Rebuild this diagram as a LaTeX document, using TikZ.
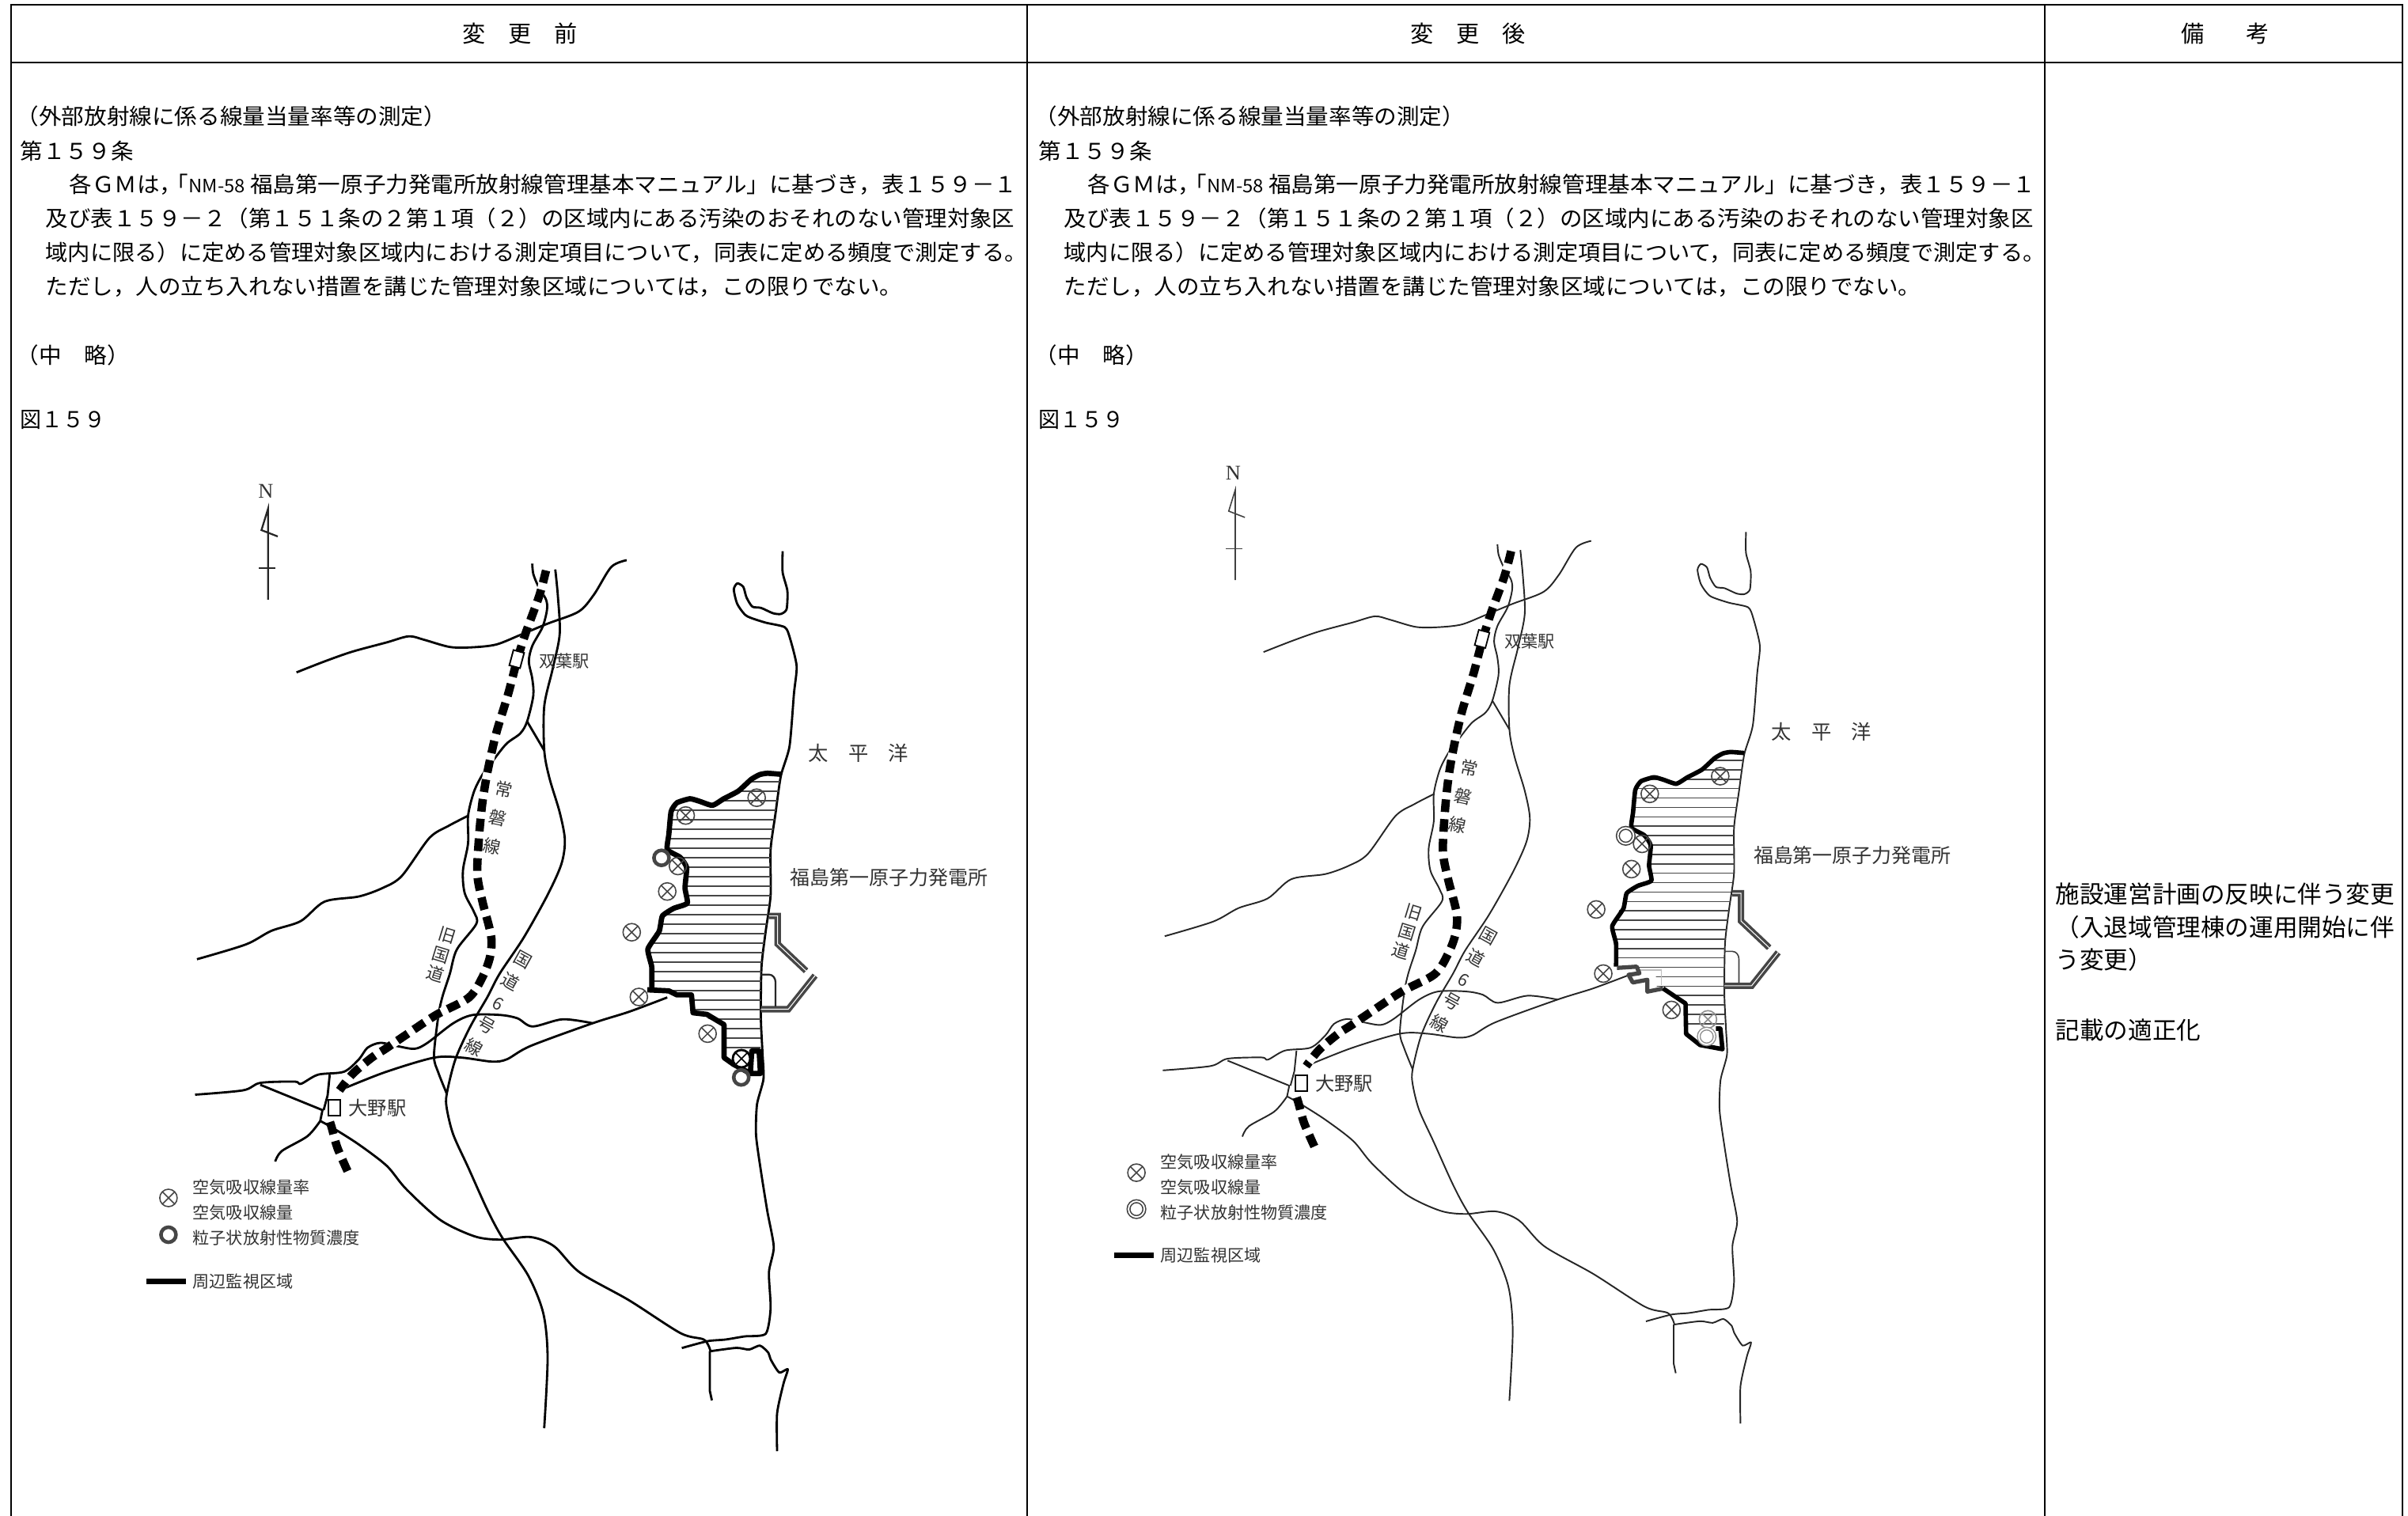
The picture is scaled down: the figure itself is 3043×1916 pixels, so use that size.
\documentclass[tikz,border=0pt]{standalone}
\usepackage{fontspec}
\usepackage{graphicx}
\setmainfont{Noto Sans CJK JP}
\newfontfamily\northfont{Liberation Serif}
\tikzset{>=latex}
\usetikzlibrary{calc}
\definecolor{mapgrey}{RGB}{70,70,70}
\tikzstyle{frameline}=[draw=black,line width=0.75pt]
\tikzstyle{headtext}=[font=\fontsize{8.3}{10}\selectfont,inner sep=0pt]
\tikzstyle{bodyline}=[font=\fontsize{7.9}{10}\selectfont,anchor=west,inner sep=0pt]
\tikzstyle{notetext}=[font=\fontsize{8.7}{10}\selectfont,anchor=west,inner sep=0pt]
\tikzstyle{maplabel}=[text=black!80,inner sep=0pt,font=\fontsize{6}{7}\selectfont]
\tikzstyle{legendlabel}=[maplabel,anchor=west,font=\fontsize{6}{7}\selectfont]
\tikzstyle{hatchline}=[draw=mapgrey,line width=0.42pt]
\tikzstyle{harbourline}=[draw=mapgrey,line width=1pt,double=white,double distance=0.3pt]
\tikzset{markin/.style={circle,draw=#1,line width=0.45pt,minimum size=0.22cm,inner sep=0pt,
  path picture={\draw[#1,line width=0.45pt] (path picture bounding box.north west) -- (path picture bounding box.south east)
    (path picture bounding box.north east) -- (path picture bounding box.south west);}},
  xmark/.style={markin=mapgrey}}
\newcommand{\fitline}[2]{\resizebox{#1cm}{\height}{#2}}

\newcommand{\bodytext}{%
  \node[bodyline] (clausehead) at (20,147) {\fitline{5.43}{（外部放射線に係る線量当量率等の測定）}};
  \node[bodyline] (clauseno) at (25,191) {\fitline{1.43}{第１５９条}};
  \node[bodyline] (lineA) at (87,233) {\fitline{11.97}{各ＧＭは，\hspace{-0.2cm}「{\fontsize{6.6}{8}\selectfont NM-58} 福島第一原子力発電所放射線管理基本マニュアル」に基づき，表１５９－１}};
  \node[bodyline] (lineB) at (57,276) {\fitline{12.24}{及び表１５９－２（第１５１条の２第１項（２）の区域内にある汚染のおそれのない管理対象区}};
  \node[bodyline] (lineC) at (57,319) {\fitline{12.39}{域内に限る）に定める管理対象区域内における測定項目について，同表に定める頻度で測定する。}};
  \node[bodyline] (lineD) at (57,362) {\fitline{10.82}{ただし，人の立ち入れない措置を講じた管理対象区域については，この限りでない。}};
  \node[bodyline] (omitted) at (20,449) {\fitline{1.43}{（中　略）}};
  \node[bodyline] (figno) at (25,531) {\fitline{1.08}{図１５９}};
}

% everything both maps share, in the frame of the left one
\newcommand{\mapbase}{%
  \node[maplabel,font=\northfont\fontsize{7.5}{8}\selectfont] (north) at (336,621) {N};
  \draw[thinline] (338.7,758) -- (338.7,643) -- (330.4,670) -- (351,678);
  \draw[thinline] (327,718) -- (348,718);
  % roads
  \draw[roadline] plot[smooth,tension=.5] coordinates {(374.7,849.8) (410.2,835.9) (444.9,823.7) (488.3,812) (516.5,804.2) (536,808.6) (568.5,817.7) (596.7,818.1) (627,814.6) (657.4,802.5) (692,788.2) (731.2,773) (750.7,751.3) (772.4,716.6) (791.9,708)};
  \draw[roadline] plot[smooth,tension=.5] coordinates {(672.6,712.3) (673.9,725.3) (680,740.5) (690,757.8) (691.2,770.8) (685.6,792.5) (672.6,816.4) (668.3,835.9) (672.6,857.6) (673.9,879.3) (666.1,911.8) (657.4,927) (640,940) (622.7,961.7) (609.7,979) (598.9,1000.7) (591.5,1031) (591.5,1065.7) (585,1100.4) (587.2,1128.6) (598.9,1152.5) (601.9,1167.7) (577.2,1200.2) (568.5,1230.6) (559,1260) (553.8,1284.9) (548.4,1334.6) (553.8,1355.3) (564.6,1382.3)};
  \draw[roadline] plot[smooth,tension=.5] coordinates {(701.7,719.7) (705,753.5) (707.3,801.2) (698.6,844.6) (687.8,892.3) (687.8,948.6) (694.3,983.3) (707.3,1026.7) (713.8,1061.4) (709.5,1091.8) (692.1,1130.8) (661.8,1185) (631.4,1230.6) (616,1260) (594.4,1297.3) (575.5,1338.8) (564.6,1382.3) (564.6,1401) (572.8,1434) (591.7,1475.5) (616,1529.4) (635,1564.7) (667.6,1612.3) (686.6,1660) (692,1716) (687.7,1805)};
  \draw[roadline] (666.1,911.8) -- (687.8,948.6);
  \draw[roadline] plot[smooth,tension=.5] coordinates {(248.9,1212.3) (310.5,1193.7) (343,1176.4) (379.9,1164.2) (410.2,1139.5) (453.6,1133) (483.9,1122.1) (507.8,1107) (542.5,1059.2) (566.4,1044) (591.5,1031)};
  \draw[roadline] plot[smooth,tension=.5] coordinates {(246.5,1383.5) (307.2,1378) (328.9,1368.6) (372.2,1367) (380.4,1369.8) (402,1358.2) (434.6,1354.5) (453.5,1338.8) (464.4,1324.2) (480.6,1318) (502.3,1322.2) (524,1325.5) (540.2,1318) (572.8,1293.2) (597.2,1282.8) (632.4,1282.8) (654,1287) (673,1297.3) (711,1288.2) (749,1293.2)};
  \draw[roadline] plot[smooth,tension=.5] coordinates {(429,1378) (486,1355.3) (548.4,1336.7) (583.6,1336.7) (621.5,1341.7) (640.5,1338.8) (670.3,1322) (749,1293.2) (795,1278.7) (843.2,1260.6)};
  \draw[roadline] (328.9,1371) -- (407.5,1403) -- (404.7,1416.7);
  \draw[roadline] plot[smooth,tension=.5] coordinates {(404.7,1416.7) (388.5,1436) (356,1454.8) (347.8,1468)};
  \draw[roadline] (416.7,1358.2) -- (414,1384.4) -- (409,1403);
  \draw[roadline] plot[smooth,tension=.5] coordinates {(404.7,1416.7) (421,1425.8) (453.5,1446.5) (488.8,1473.5) (513,1502.5) (556.5,1541.9) (599.9,1562.6) (632.4,1566.7) (670.3,1563.4) (700.1,1575) (732.7,1608.2) (795,1643.4) (860,1684.9) (889.8,1693.2) (897.9,1707.7)};
  % coast and rivers
  \draw[roadline] plot[smooth,tension=.4] coordinates {(989,696.7) (989,723.3) (995,746.7) (994,770) (986.7,776) (976.7,775) (961.7,768.3) (950.7,766.7) (943.3,755) (939.3,741.7) (931.7,737.3) (927.3,745) (931.7,763.3) (943.3,778.3) (966.7,786.7) (991.7,792.7) (998.3,806.7) (1006.7,841.7) (1003.3,876.7) (997.7,943.3) (986.8,980.5) (979.9,1028.8) (973.8,1073.9) (973.8,1131.8) (967.6,1176.9) (962.3,1222) (961.5,1286.4) (963.6,1331.5) (964.8,1363.7) (956.6,1395.9) (955.4,1434.5) (961.5,1479.6) (969.7,1531) (977.8,1576) (971.7,1608) (973.8,1653.5) (967.6,1685.7) (941,1689) (916.6,1693) (894.2,1695) (861.6,1703.7)};
  \draw[roadline] (896.9,1707.7) -- (896.9,1757.4) -- (899.6,1769.8);
  \draw[roadline] plot[smooth,tension=.4] coordinates {(897.9,1707.7) (930.5,1703.5) (946.7,1705.6) (960.3,1700.6) (971,1709.7) (973.8,1718) (984.7,1734.6) (995.5,1730.5) (990,1749) (982,1786.4) (982,1834)};
  % harbour
  \draw[harbourline] (971.7,1157.6) -- (982.7,1157.6) -- (982.7,1193) -- (1018.6,1227);
  \draw[harbourline] (1030,1233) -- (996.2,1275.5) -- (961.5,1275.5);
  \draw[thinline] (961.5,1231.7) -- (971.7,1231.7) to[out=0,in=90] (980,1241.3) -- (980,1272);
  % site area
  \begin{scope}
    \clip (986.8,978.6) -- (969.7,977.3) -- (949.3,985) -- (933,999.8) -- (914.6,1009.5) -- (900.3,1017.9) -- (871.8,1009.5) -- (855.4,1014.6) -- (848.1,1025.6) -- (843.2,1073.9) -- (859.5,1083.5) -- (867.7,1096.4) -- (865.6,1122.2) -- (868.5,1141.5) -- (851.4,1148) -- (837.1,1157.6) -- (818.7,1199.5) -- (823.6,1222) -- (823.6,1251) -- (873.8,1257.4) -- (875.8,1280) -- (915,1295) -- (915,1336.7) -- (961,1336.7) -- (961.5,1286.4) -- (962.3,1222) -- (967.6,1176.9) -- (973.8,1131.8) -- (973.8,1073.9) -- (979.9,1028.8) -- cycle;
    \foreach \y in {0,...,28}
      \draw[hatchline] (810,{988+12*\y}) -- (990,{988+12*\y});
  \end{scope}
  \draw[siteline] plot[smooth,tension=.3] coordinates {(986.8,978.6) (969.7,977.3) (960,979) (949.3,985) (933,999.8) (914.6,1009.5) (900.3,1017.9) (884,1012.7) (871.8,1009.5) (855.4,1014.6) (848.1,1025.6) (845.2,1054.6) (843.2,1073.9) (859.5,1083.5) (867.7,1096.4) (865.6,1122.2) (868.5,1141.5) (851.4,1148) (837.1,1157.6) (833,1177) (818.7,1199.5) (823.6,1222) (823.6,1251)};
  % railway
  \draw[railhalo] plot[smooth,tension=.5] coordinates {(690,721) (681.3,753.5) (663.9,801.2) (653,836) (642.2,877) (627,927) (616.2,974.7) (609.7,1013.7) (605.4,1057) (603.2,1104.8) (609.7,1139.5) (620.6,1182.8) (619.3,1208.9) (609.7,1234.9) (592.4,1260.9) (551,1282.8) (510.4,1309.7) (486,1326.3) (469.8,1336.7) (445.4,1357.4) (429,1378)};
  \draw[railline] plot[smooth,tension=.5] coordinates {(690,721) (681.3,753.5) (663.9,801.2) (653,836) (642.2,877) (627,927) (616.2,974.7) (609.7,1013.7) (605.4,1057) (603.2,1104.8) (609.7,1139.5) (620.6,1182.8) (619.3,1208.9) (609.7,1234.9) (592.4,1260.9) (551,1282.8) (510.4,1309.7) (486,1326.3) (469.8,1336.7) (445.4,1357.4) (429,1378)};
  \draw[railline] plot[smooth,tension=.5] coordinates {(417,1418) (419.4,1425.8) (426.4,1450.7) (440,1481.8)};
  % stations and names
  \node[stationbox,rotate=-15] (futaba) at (653,833) {};
  \node[stationbox,minimum width=0.15cm,minimum height=0.2cm] (ono) at (422.6,1400) {};
  \node[maplabel,anchor=west] (futabalabel) at (681,836) {双葉駅};
  \node[maplabel,anchor=west,font=\fontsize{6.9}{8}\selectfont] (onolabel) at (440,1400) {大野駅};
  \node[maplabel,rotate=-12,align=center,font=\fontsize{6.2}{10.5}\selectfont] (joban) at (629.2,1034) {常\\磐\\線};
  \node[maplabel,rotate=-17,align=center,font=\fontsize{6.2}{7.4}\selectfont] (oldroad) at (557.7,1206.7) {旧\\国\\道};
  \node[maplabel,rotate=-29,align=center,font=\fontsize{6.2}{9}\selectfont] (route) at (629.7,1268.3) {国\\道\\6\\号\\線};
  \node[maplabel,font=\fontsize{7.2}{8}\selectfont] (ocean) at (1085,951.5) {太　平　洋};
  \node[maplabel,anchor=west,font=\fontsize{7.1}{8}\selectfont] (plant) at (998,1109) {福島第一原子力発電所};
  % monitoring points
  \foreach \name/\px/\py in {a/956.2/1008.2,b/866.5/1030.7,c/856.7/1094.5,d/843.2/1126.7,e/798.3/1178.2,f/807.3/1260,g/894.2/1306.4}
    \node[xmark] (\name) at (\px,\py) {};
  \node[ringmark] (ringa) at (835.9,1084.2) {};
  % legend
  \node[xmark] (keyx) at (212.9,1514) {};
  \node[ringmark] (keyring) at (212.9,1560.5) {};
  \node[legendlabel] (keyrate) at (243,1500.4) {空気吸収線量率};
  \node[legendlabel] (keydose) at (243,1532.3) {空気吸収線量};
  \node[legendlabel] (keydust) at (243,1564.7) {粒子状放射性物質濃度};
  \coordinate (keyfrom) at (185,1619.4);
  \coordinate (keyto) at (235,1619.4);
  \draw[keyline] (keyfrom) -- (keyto);
  \node[legendlabel] (keyarea) at (243,1619.8) {周辺監視区域};
}

\begin{document}
\begin{tikzpicture}[x=0.01cm,y=-0.01cm]
  \useasboundingbox (0,0) rectangle (3043,1916);
  % table
  \draw[frameline] (14,1916) -- (14,6) -- (3036,6) -- (3036,1916);
  \draw[frameline] (14,79) -- (3036,79);
  \draw[frameline] (1298,6) -- (1298,1916);
  \draw[frameline] (2584,6) -- (2584,1916);
  \node[headtext] (headold) at (657,42) {変　更　前};
  \node[headtext] (headnew) at (1855,42) {変　更　後};
  \node[headtext] (headnote) at (2812,42) {備\hspace{0.535cm}考};

  \begin{scope}[name prefix=old-]
    \bodytext
  \end{scope}
  \begin{scope}[shift={(1287,0)},name prefix=new-]
    \bodytext
  \end{scope}

  \node[notetext] (noteA) at (2597,1130) {施設運営計画の反映に伴う変更};
  \node[notetext] (noteB) at (2597,1172) {（入退域管理棟の運用開始に伴};
  \node[notetext] (noteC) at (2597,1213) {う変更）};
  \node[notetext] (noteD) at (2597,1302) {記載の適正化};

  % map before
  \begin{scope}[name prefix=oldmap-,
      thinline/.style={draw=black!85,line width=0.65pt},
      roadline/.style={draw=black,line width=0.8pt,line join=round},
      siteline/.style={draw=black,line width=1.9pt,line join=round},
      railhalo/.style={draw=white,line width=3pt},
      railline/.style={draw=black,line width=3pt,dash pattern=on 0.16cm off 0.09cm},
      keyline/.style={draw=black,line width=1.8pt},
      stationbox/.style={draw=black,fill=white,line width=0.55pt,minimum width=0.14cm,minimum height=0.2cm,inner sep=0pt},
      ringmark/.style={circle,draw=mapgrey,line width=1.3pt,minimum size=0.19cm,inner sep=0pt}]
    \mapbase
    \draw[siteline] (818,1251) -- (845.2,1252.3) -- (855.4,1257.4) -- (873.8,1257.4) -- (875.8,1280) -- (893.3,1282) -- (915,1295) -- (915,1336.7) -- (926.7,1345) -- (948.3,1356.7) -- (961,1356.7) -- (959.3,1328.3) -- (950,1328.3) -- (948.3,1355);
    \node[markin=black,fill=white,line width=0.8pt] (h) at (937,1338) {};
    \node[ringmark] (ringb) at (936.7,1361.7) {};
  \end{scope}

  % map after
  \begin{scope}[name prefix=newmap-,shift={(1224.8,-17.7)},xscale=0.9925,yscale=0.9906,
      thinline/.style={draw=black!75,line width=0.45pt},
      roadline/.style={draw=black!85,line width=0.55pt,line join=round},
      siteline/.style={draw=black,line width=1.6pt,line join=round},
      railhalo/.style={draw=white,line width=3pt},
      railline/.style={draw=black,line width=3pt,dash pattern=on 0.16cm off 0.09cm},
      keyline/.style={draw=black,line width=1.8pt},
      stationbox/.style={draw=black,fill=white,line width=0.5pt,minimum width=0.14cm,minimum height=0.2cm,inner sep=0pt},
      ringmark/.style={circle,draw=black!75,line width=0.45pt,double=white,double distance=0.55pt,minimum size=0.2cm,inner sep=0pt}]
    \mapbase
  \end{scope}
  \draw[draw=black!25,line width=0.3pt] (2070,1226) -- (2099.3,1226) -- (2099.3,1245);
  \draw[draw=mapgrey,line width=1.5pt,line join=round] (2043.3,1223.3) -- (2068.3,1221.7) -- (2071.7,1230) -- (2058,1232) -- (2063.3,1241.7) -- (2081.7,1238.3) -- (2081.7,1253.3) -- (2101.7,1249.3);
  \draw[draw=black,line width=1.6pt,line join=round] (2101.7,1249.3) -- (2130,1268.3) -- (2130.7,1306.7) -- (2148.3,1320.7) -- (2176.7,1326) -- (2174,1300) -- (2168.3,1300);
  \node[markin=black!45] (newmap-h) at (2158.3,1288.3) {};
  \node[circle,draw=black!45,line width=0.4pt,double=white,double distance=0.55pt,minimum size=0.2cm,inner sep=0pt] (newmap-ringb) at (2156.7,1310) {};
\end{tikzpicture}
\end{document}
